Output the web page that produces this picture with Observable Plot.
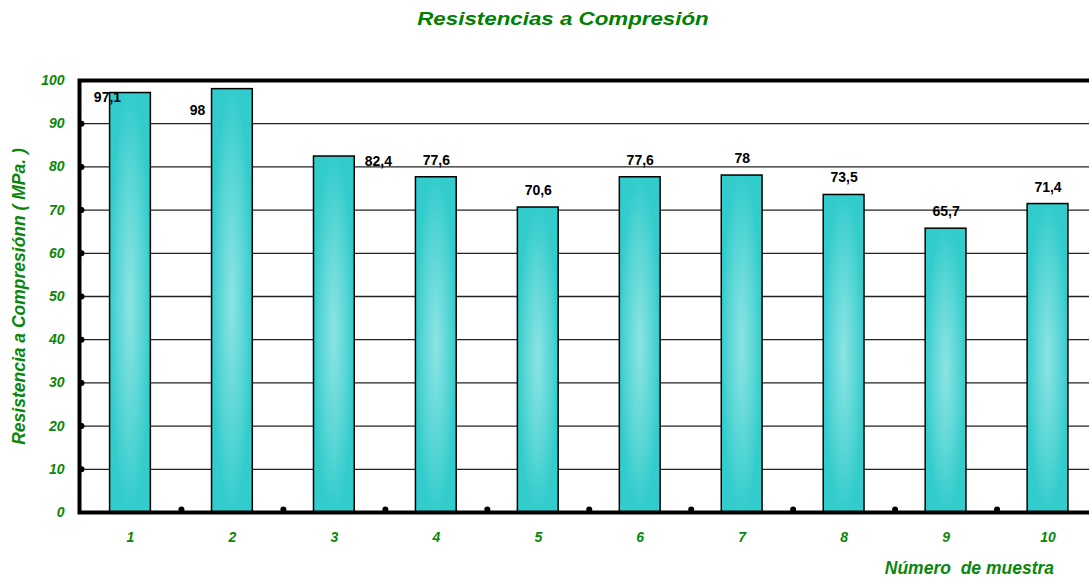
<!DOCTYPE html>
<html>
<head>
<meta charset="utf-8">
<script src="https://cdn.jsdelivr.net/npm/d3@7"></script>
<script src="https://cdn.jsdelivr.net/npm/@observablehq/plot@0.6"></script>
<style>
  html, body { margin: 0; padding: 0; background: #fff; overflow: hidden; width: 1089px; height: 579px; }
  #title { position: relative; height: 50px; width: 1089px; }
  #title span {
    position: absolute; left: 563px; top: 9px;
    transform: translateX(-50%) scaleX(1.24);
    font-family: "Liberation Sans", Arial, sans-serif;
    font-size: 18px; font-weight: bold; font-style: italic; color: #008000;
    white-space: nowrap;
  }
  #chart { width: 1089px; height: 529px; overflow: hidden; }
  #chart svg { display: block; max-width: none !important; width: 1100px !important; height: 529px !important; }
</style>
</head>
<body>
<div id="title"><span>Resistencias a Compresión</span></div>
<div id="chart"></div>
<script>
const muestras = [1, 2, 3, 4, 5, 6, 7, 8, 9, 10];
const resistencias = [97.1, 98, 82.4, 77.6, 70.6, 77.6, 78, 73.5, 65.7, 71.4];
const yTicks = [0, 10, 20, 30, 40, 50, 60, 70, 80, 90, 100];
const gridValues = [10, 20, 30, 40, 50, 60, 70, 80, 90];
const yLabel = "Resistencia a Compresiónn ( MPa. )";
const xLabel = "Número\u00a0 de muestra";

const data = muestras.map((m, i) => ({
  muestra: m,
  valor: resistencias[i],
  etiqueta: String(resistencias[i]).replace(".", ",")
}));
const separadores = muestras.slice(0, -1).map(m => m + 0.5);

const green = "#0a870a";
const font = "Liberation Sans, Arial, sans-serif";
const labelStyle = {fontSize: 14, fontWeight: "bold", fill: "black", fontFamily: font};

const chart = Plot.plot({
  width: 1100,
  height: 529,
  marginLeft: 79,
  marginRight: 1.5,
  marginTop: 30,
  marginBottom: 67,
  style: {fontFamily: font, background: "white"},
  x: {domain: [0.5, 10.5]},
  y: {domain: [0, 100]},
  marks: [
    Plot.ruleY(gridValues, {stroke: "#222", strokeWidth: 1.3}),
    Plot.rectY(data, {
      x1: d => d.muestra - 0.2,
      x2: d => d.muestra + 0.2,
      y1: 0,
      y2: "valor",
      fill: "url(#barGrad)",
      stroke: "black",
      strokeWidth: 1.5
    }),
    Plot.frame({stroke: "black", strokeWidth: 4}),
    Plot.dot(yTicks.slice(1, -1), {y: d => d, frameAnchor: "left", r: 3, fill: "black", stroke: "none", dx: 2}),
    Plot.dot(separadores, {x: d => d, y: 0, r: 3, fill: "black", stroke: "none", dy: -3}),
    Plot.axisY(yTicks, {
      tickSize: 0, tickPadding: 15, fontSize: 14, fontWeight: "bold", fontStyle: "italic",
      fill: green, label: null, tickFormat: d => d
    }),
    Plot.axisX(muestras, {
      tickSize: 0, tickPadding: 20, fontSize: 14, fontWeight: "bold", fontStyle: "italic",
      fill: green, label: null, tickFormat: d => d
    }),
    Plot.text(data.filter(d => d.muestra > 3), {
      x: "muestra", y: "valor", text: "etiqueta", dy: -17, ...labelStyle
    }),
    Plot.text(data.filter(d => d.muestra === 1), {
      x: "muestra", y: "valor", text: "etiqueta", dx: -23, dy: 4, ...labelStyle
    }),
    Plot.text(data.filter(d => d.muestra === 2), {
      x: "muestra", y: "valor", text: "etiqueta", dx: -35, dy: 21, ...labelStyle
    }),
    Plot.text(data.filter(d => d.muestra === 3), {
      x: "muestra", y: "valor", text: "etiqueta", dx: 44, dy: 5, ...labelStyle
    }),
    Plot.text([yLabel], {
      frameAnchor: "left", textAnchor: "middle", rotate: -90, dx: -60,
      fontSize: 17.5, fontWeight: "bold", fontStyle: "italic", fill: green, fontFamily: font
    }),
    Plot.text([xLabel], {
      frameAnchor: "bottom-right", textAnchor: "end", dx: -45, dy: 61,
      fontSize: 17.5, fontWeight: "bold", fontStyle: "italic", fill: green, fontFamily: font
    })
  ]
});

const svg = d3.select(chart);
const defs = svg.insert("defs", ":first-child");
const grad = defs.append("radialGradient")
  .attr("id", "barGrad")
  .attr("gradientUnits", "objectBoundingBox")
  .attr("cx", 0.5).attr("cy", 0.5).attr("r", 0.5);
grad.append("stop").attr("offset", "0%").attr("stop-color", "#8ce4e4");
grad.append("stop").attr("offset", "60%").attr("stop-color", "#5ad6d6");
grad.append("stop").attr("offset", "100%").attr("stop-color", "#33cccc");

document.getElementById("chart").appendChild(chart);
</script>
</body>
</html>
